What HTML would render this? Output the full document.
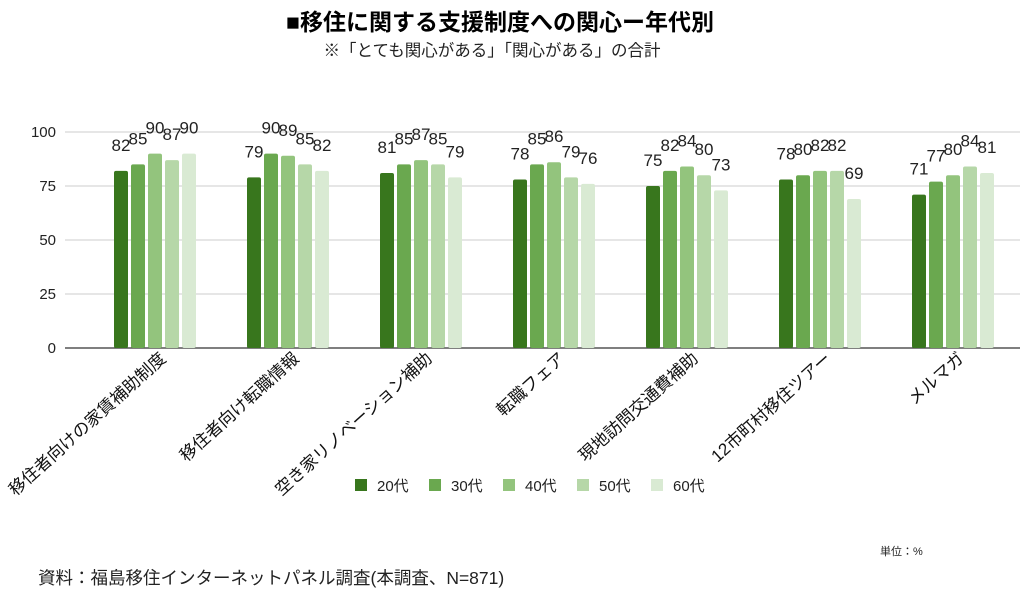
<!DOCTYPE html>
<html><head><meta charset="utf-8">
<style>
html,body{margin:0;padding:0;background:#fff;}
svg{display:block;font-family:"Liberation Sans","Noto Sans CJK JP",sans-serif;}
</style></head>
<body>
<svg id="chart" width="1020" height="604" viewBox="0 0 1020 604">
<text x="500" y="30" text-anchor="middle" font-size="23" font-weight="bold" fill="#000">■移住に関する支援制度への関心ー年代別</text>
<text x="492" y="56" text-anchor="middle" font-size="16.5" fill="#222">※「とても関心がある」「関心がある」の合計</text>
<g id="grid"></g>
<g id="bars"></g>
<g id="labels"></g>
<g id="legend"></g>
<text x="880" y="555" font-size="11" fill="#222">単位：%</text>
<text x="38" y="584" font-size="17.5" fill="#222">資料：福島移住インターネットパネル調査(本調査、N=871)</text>
</svg>
<script>
const categories=["移住者向けの家賃補助制度","移住者向け転職情報","空き家リノベーション補助","転職フェア","現地訪問交通費補助","12市町村移住ツアー","メルマガ"];
const seriesNames=["20代","30代","40代","50代","60代"];
const s20=[82,79,81,78,75,78,71];
const s30=[85,90,85,85,82,80,77];
const s40=[90,89,87,86,84,82,80];
const s50=[87,85,85,79,80,82,84];
const s60=[90,82,79,76,73,69,81];
const yTicks=[0,25,50,75,100];
const series=[s20,s30,s40,s50,s60];
const colors=["#38761d","#6aa84f","#93c47d","#b6d7a8","#d9ead3"];
const NS="http://www.w3.org/2000/svg";
const y0=348,y1=132,xL=65,xR=1020;
function y(v){return y0-(v/100)*(y0-y1);}
function gx(i){return 155+i*133;}
function mk(tag,attrs,parent){const e=document.createElementNS(NS,tag);for(const k in attrs)e.setAttribute(k,attrs[k]);parent.appendChild(e);return e;}
const grid=document.getElementById('grid'),bars=document.getElementById('bars'),labels=document.getElementById('labels'),legend=document.getElementById('legend');
yTicks.forEach(t=>{
  const l=mk('line',{x1:xL,x2:xR,y1:y(t),y2:y(t),stroke:t===0?'#333':'#ccc','stroke-width':t===0?1.2:1},grid);
  
  
  const tx=mk('text',{x:56,y:y(t)+5,'text-anchor':'end','font-size':15,fill:'#222'},grid);
  tx.textContent=t;
  
  
});
const bw=14,step=17;
categories.forEach((c,i)=>{
  const start=gx(i)-(5*step-3)/2;
  series.forEach((s,j)=>{
    const v=s[i],x=start+j*step;
    const r=mk('rect',{x:x,y:y(v),width:bw,height:y0-y(v),rx:2,fill:colors[j]},bars);
    
    
    const t=mk('text',{x:x+bw/2,y:y(v)-20,'text-anchor':'middle','font-size':17,fill:'#222'},bars);
    t.textContent=v;
    
    
  });
  const cx=gx(i)+12,cy=360;
  const lt=mk('text',{x:cx,y:cy,'text-anchor':'end','font-size':17,fill:'#111',transform:'rotate(-42 '+cx+' '+cy+')'},labels);
  lt.textContent=c;
  
  
});
seriesNames.forEach((n,j)=>{
  const x=355+j*74;
  const r=mk('rect',{x:x,y:479,width:12,height:12,fill:colors[j]},legend);
  
  
  const t=mk('text',{x:x+22,y:491,'font-size':15,fill:'#222'},legend);
  t.textContent=n;
  
  
});
</script>
</body></html>
